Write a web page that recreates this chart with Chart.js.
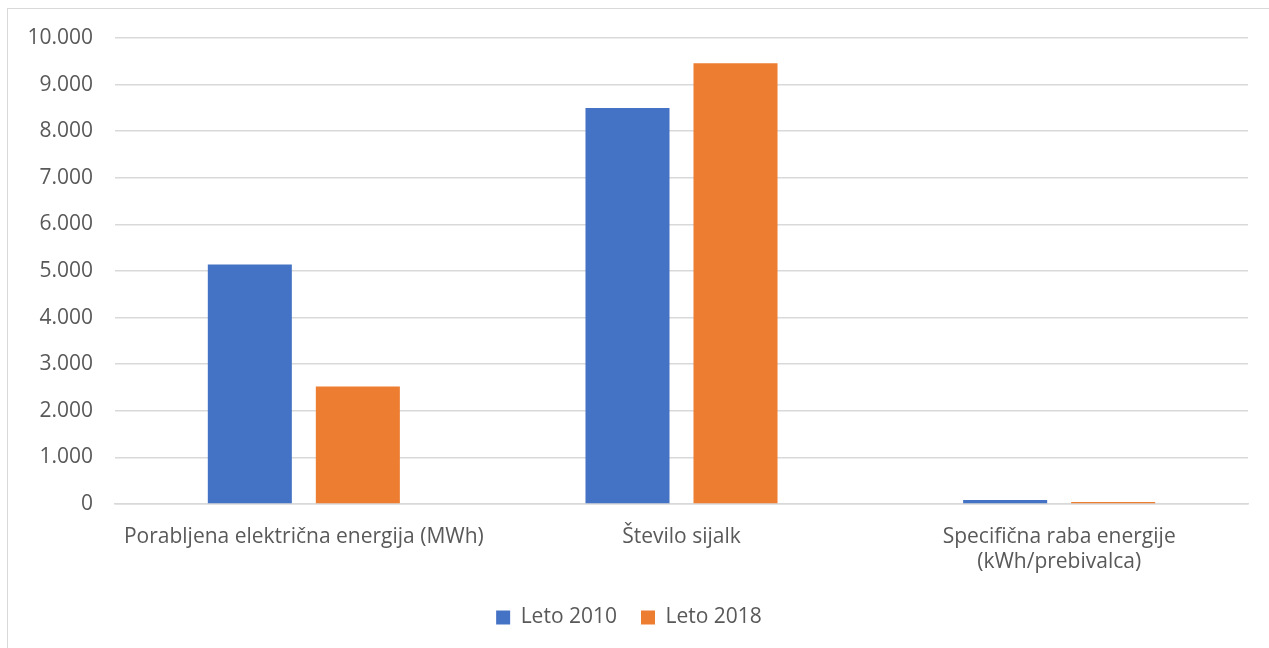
<!DOCTYPE html>
<html>
<head>
<meta charset="utf-8">
<script src="https://cdn.jsdelivr.net/npm/chart.js@4"></script>
<style>
  html, body { margin: 0; padding: 0; background: #fff; }
  #wrap { position: absolute; left: 0; top: 0; width: 1269px; height: 648px; }
</style>
</head>
<body>
<div id="wrap"><canvas id="chart"></canvas></div>
<script>
const categories = [
    "Porabljena električna energija (MWh)",
    "Število sijalk",
    ["Specifična raba energije", "(kWh/prebivalca)"]
];
const seriesNames = ["Leto 2010", "Leto 2018"];
const values2010 = [5140, 8500, 86];
const values2018 = [2520, 9460, 45];
const yTicks = [0, 1000, 2000, 3000, 4000, 5000, 6000, 7000, 8000, 9000, 10000];

// light frame around the whole chart, like the office export
const framePlugin = {
    id: "frame",
    beforeDraw(chart) {
        const ctx = chart.ctx;
        ctx.save();
        ctx.strokeStyle = "#d9d9d9";
        ctx.lineWidth = 1;
        ctx.strokeRect(7.5, 8.5, 1300, 700);
        ctx.restore();
    }
};

const fontFamily = "'Open Sans', 'Liberation Sans', sans-serif";

new Chart(document.getElementById("chart"), {
    type: "bar",
    data: {
        labels: categories,
        datasets: [{
            label: seriesNames[0],
            data: values2010,
            backgroundColor: "#4472c4",
            categoryPercentage: 0.572,
            barPercentage: 0.778
        }, {
            label: seriesNames[1],
            data: values2018,
            backgroundColor: "#ed7d31",
            categoryPercentage: 0.572,
            barPercentage: 0.778
        }]
    },
    options: {
        responsive: true,
        maintainAspectRatio: false,
        animation: false,
        layout: { padding: { left: 10, right: 21, top: 38, bottom: 10 } },
        plugins: {
            legend: {
                position: "bottom",
                labels: {
                    boxWidth: 14,
                    boxHeight: 14,
                    padding: 24,
                    color: "#595959",
                    font: { family: fontFamily, size: 21 }
                }
            },
            tooltip: { enabled: false }
        },
        scales: {
            x: {
                grid: { display: false },
                border: { color: "#d9d9d9", width: 1.5 },
                ticks: {
                    color: "#595959",
                    maxRotation: 0,
                    padding: 12,
                    font: { family: fontFamily, size: 21 }
                },
                afterFit(scale) { scale.height = 79; }
            },
            y: {
                min: 0,
                max: 10000,
                afterBuildTicks(scale) { scale.ticks = yTicks.map(v => ({ value: v })); },
                grid: { color: "#d9d9d9", lineWidth: 1.5, drawTicks: false },
                border: { display: false },
                ticks: {
                    color: "#595959",
                    padding: 22,
                    font: { family: fontFamily, size: 21 },
                    callback: v => v.toLocaleString("de-DE")
                },
                afterFit(scale) { scale.width = 105; }
            }
        }
    },
    plugins: [framePlugin]
});
</script>
</body>
</html>
